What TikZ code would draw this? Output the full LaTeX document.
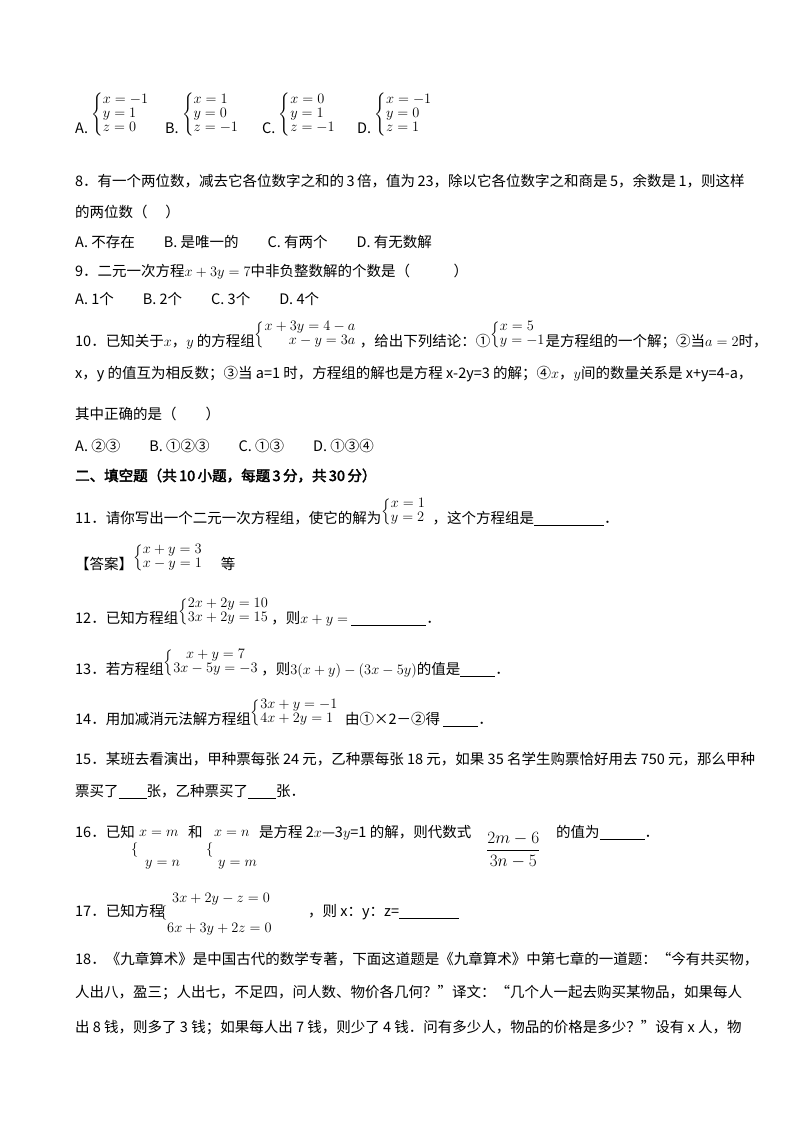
\documentclass[tikz,border=0pt]{standalone}
\usepackage{amsmath}
\usepackage{fontspec}
\setmainfont{Noto Sans CJK SC}[AutoFakeBold=2.5]
\newsavebox{\sysbox}
\newcommand{\sys}[2]{{\arraycolsep=0pt\def\arraystretch{0.82}\sbox{\sysbox}{$\left\{\begin{array}{@{}#1@{}}#2\end{array}\right.$}\raisebox{\dimexpr\dp\sysbox-3pt\relax}{\usebox{\sysbox}}}}
\newcommand{\blank}[1]{\rule[-2pt]{#1pt}{0.5pt}}
\begin{document}
\begin{tikzpicture}[x=1pt,y=-1pt,
  t/.style={anchor=base west,inner sep=0pt,font=\fontsize{14.5}{17}\selectfont},
  m/.style={anchor=west,inner sep=0pt,font=\fontsize{14.5}{17}\selectfont}]
\useasboundingbox (0,0) rectangle (800,1132);
% options of Q7
\node[t] (a7) at (75,133) {A.\ \sys{l}{x=-1\\ y=1\\ z=0}};
\node[t] (b7) at (165,133) {B.\ \sys{l}{x=1\\ y=0\\ z=-1}};
\node[t] (c7) at (262,133) {C.\ \sys{l}{x=0\\ y=1\\ z=-1}};
\node[t] (d7) at (357,133) {D.\ \sys{l}{x=-1\\ y=0\\ z=1}};
% Q8
\node[t] (q8) at (75,186) {8．有一个两位数，减去它各位数字之和的\,3\,倍，值为\,23，除以它各位数字之和商是\,5，余数是\,1，则这样};
\node[t] (q8b) at (75,217) {的两位数（\quad\ ）};
\node[t] (o8) at (75,247) {A.\ 不存在\qquad B.\ 是唯一的\qquad C.\ 有两个\qquad D.\ 有无数解};
% Q9
\node[t] (q9) at (75,276) {9．二元一次方程$x+3y=7$中非负整数解的个数是（\qquad\quad ）};
\node[t] (o9) at (75,304) {A.\ 1个\qquad B.\ 2个\qquad C.\ 3个\qquad D.\ 4个};
% Q10
\node[t] (q10) at (75,346) {10．已知关于$x$，$y$ 的方程组\sys{r}{x+3y=4-a\\ x-y=3a}\ ，给出下列结论：①\sys{l}{x=5\\ y=-1}是方程组的一个解；②当$a=2$时，};
\node[t] (q10b) at (75,378) {x，y 的值互为相反数；③当 a=1 时，方程组的解也是方程 x-2y=3 的解；④$x$，$y$间的数量关系是 x+y=4-a，};
\node[t] (q10c) at (75,419) {其中正确的是（\qquad ）};
\node[t] (o10) at (75,451) {A.\ ②③\qquad B.\ ①②③\qquad C.\ ①③\qquad D.\ ①③④};
% section
\node[t,font=\fontsize{14.5}{17}\selectfont\bfseries] (sec) at (75,481) {二、填空题（共\,10\,小题，每题\,3\,分，共\,30\,分）};
% Q11
\node[t] (q11) at (75,523) {11．请你写出一个二元一次方程组，使它的解为\sys{l}{x=1\\ y=2}\ \ ，这个方程组是\blank{70}．};
\node[t] (ans) at (75,569) {【答案】\sys{l}{x+y=3\\ x-y=1}\quad\ 等};
% Q12
\node[t] (q12) at (75,623) {12．已知方程组\sys{l}{2x+2y=10\\ 3x+2y=15}\,，则$x+y=$ \blank{75}．};
% Q13
\node[t] (q13) at (75,674) {13．若方程组\sys{c}{x+y=7\\ 3x-5y=-3}\,，则$3(x+y)-(3x-5y)$的值是\blank{35}．};
% Q14
\node[t] (q14) at (75,724) {14．用加减消元法解方程组\sys{l}{3x+y=-1\\ 4x+2y=1}\ \ 由①×2－②得 \blank{35}．};
% Q15
\node[t] (q15) at (75,764) {15．某班去看演出，甲种票每张 24 元，乙种票每张 18 元，如果 35 名学生购票恰好用去 750 元，那么甲种};
\node[t] (q15b) at (75,796) {票买了\blank{28}张，乙种票买了\blank{28}张．};
% Q16
\node[t] (q16) at (75,837) {16．已知};
\node[m] (b16a) at (131,850) {$\{$};
\node[t] (e16a) at (139,836) {$x=m$};
\node[t] (e16b) at (145,866) {$y=n$};
\node[t] (he) at (188,837) {和};
\node[m] (b16b) at (206,850) {$\{$};
\node[t] (e16c) at (214,836) {$x=n$};
\node[t] (e16d) at (218,866) {$y=m$};
\node[t] (q16b) at (259,837) {是方程 2$x$—3$y$=1 的解，则代数式};
\node[m,font=\fontsize{17}{20}\selectfont] (fr) at (486,850) {$\dfrac{2m-6}{3n-5}$};
\node[t] (q16c) at (556,837) {的值为\blank{45}．};
% Q17
\node[t] (q17) at (75,916) {17．已知方程};
\node[m] (b17) at (160,913) {$\{$};
\node[t] (e17a) at (172,902) {$3x+2y-z=0$};
\node[t] (e17b) at (167,932) {$6x+3y+2z=0$};
\node[t] (q17b) at (308,916) {，则 x：y：z=\blank{60}};
% Q18
\node[t] (q18) at (75,964) {18．《九章算术》是中国古代的数学专著，下面这道题是《九章算术》中第七章的一道题：“今有共买物，};
\node[t] (q18b) at (75,997) {人出八，盈三；人出七，不足四，问人数、物价各几何？”译文：“几个人一起去购买某物品，如果每人};
\node[t] (q18c) at (75,1032) {出 8 钱，则多了 3 钱；如果每人出 7 钱，则少了 4 钱．问有多少人，物品的价格是多少？”设有 x 人，物};
\end{tikzpicture}
\end{document}
